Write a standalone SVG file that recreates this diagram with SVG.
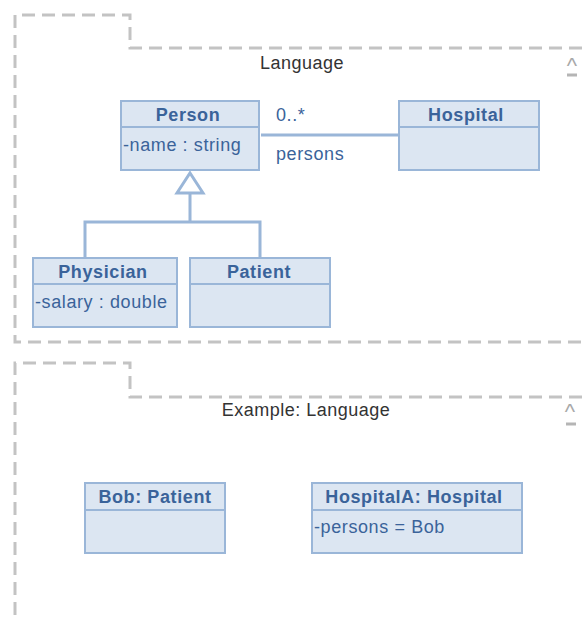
<svg xmlns="http://www.w3.org/2000/svg" width="582" height="619" viewBox="0 0 582 619">
  <style>
    .pkg { fill: none; stroke: #c3c3c3; stroke-width: 3; stroke-dasharray: 13 7; }
    .pkglabel { font-family: "Liberation Sans", Arial, sans-serif; font-size: 18px; letter-spacing: 0.5px; fill: #333333; text-anchor: middle; }
    .collapse { font-family: "Liberation Sans", Arial, sans-serif; font-size: 22px; fill: #a9a9a9; text-anchor: middle; }
    .collapse-bar { stroke: #b5b5b5; stroke-width: 3; }
    .box { fill: #dce6f2; stroke: #9ab6d8; stroke-width: 2; }
    .sep { stroke: #9ab6d8; stroke-width: 2; }
    .title { font-family: "Liberation Sans", Arial, sans-serif; font-size: 18px; letter-spacing: 0.6px; font-weight: bold; fill: #3a639a; text-anchor: middle; }
    .attr { font-family: "Liberation Sans", Arial, sans-serif; font-size: 18px; letter-spacing: 0.6px; fill: #3a639a; }
    .edge { fill: none; stroke: #9ab6d8; stroke-width: 3; }
  </style>

  <!-- package: Language -->
  <g id="pkg-language">
    <path class="pkg" d="M582,48 H130 V15 H15 V342 H582"/>
    <text class="pkglabel" x="302" y="69">Language</text>
    <text class="collapse" x="572" y="73">^</text>
    <line class="collapse-bar" x1="567" y1="75" x2="577" y2="75"/>
  </g>

  <!-- package: Example: Language -->
  <g id="pkg-example">
    <path class="pkg" d="M582,397 H130 V363 H15 V619"/>
    <text class="pkglabel" x="306" y="416">Example: Language</text>
    <text class="collapse" x="570" y="419">^</text>
    <line class="collapse-bar" x1="566" y1="424" x2="576" y2="424"/>
  </g>

  <!-- connectors -->
  <g id="connectors">
    <line class="edge" x1="261" y1="135" x2="398" y2="135"/>
    <text class="attr" x="276" y="121">0..*</text>
    <text class="attr" x="276" y="160">persons</text>
    <path class="edge" d="M85,258 V222 H260 V258 M190,222 V194"/>
    <polygon points="190,173 203,193 177,193" fill="#ffffff" stroke="#9ab6d8" stroke-width="3" stroke-linejoin="miter"/>
  </g>

  <g id="person">
    <rect class="box" x="121" y="101" width="138" height="69"/>
    <line class="sep" x1="121" y1="127" x2="259" y2="127"/>
    <text class="title" x="188" y="121">Person</text>
    <text class="attr" x="123" y="151">-name : string</text>
  </g>

  <g id="hospital">
    <rect class="box" x="399" y="101" width="140" height="69"/>
    <line class="sep" x1="399" y1="127" x2="539" y2="127"/>
    <text class="title" x="466" y="121">Hospital</text>
  </g>

  <g id="physician">
    <rect class="box" x="33" y="258" width="144" height="69"/>
    <line class="sep" x1="33" y1="284" x2="177" y2="284"/>
    <text class="title" x="103" y="278">Physician</text>
    <text class="attr" x="35" y="308">-salary : double</text>
  </g>

  <g id="patient">
    <rect class="box" x="190" y="258" width="140" height="69"/>
    <line class="sep" x1="190" y1="284" x2="330" y2="284"/>
    <text class="title" x="259" y="278">Patient</text>
  </g>

  <g id="bob">
    <rect class="box" x="85" y="483" width="140" height="70"/>
    <line class="sep" x1="85" y1="510" x2="225" y2="510"/>
    <text class="title" x="155" y="503">Bob: Patient</text>
  </g>

  <g id="hospitala">
    <rect class="box" x="312" y="483" width="210" height="70"/>
    <line class="sep" x1="312" y1="510" x2="522" y2="510"/>
    <text class="title" x="414" y="503">HospitalA: Hospital</text>
    <text class="attr" x="314" y="533">-persons = Bob</text>
  </g>
</svg>
